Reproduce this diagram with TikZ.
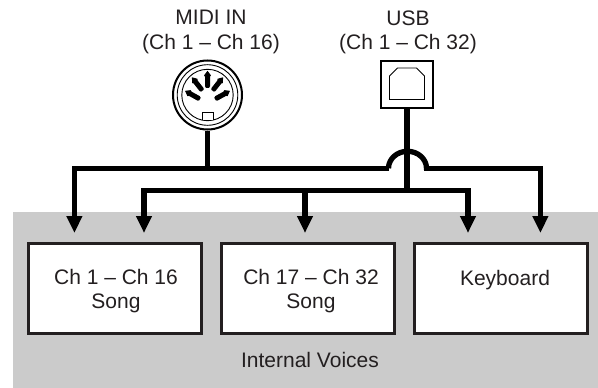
\documentclass[tikz,border=0pt]{standalone}
\usepackage{fontspec}
\setmainfont{Liberation Sans}
\usetikzlibrary{arrows.meta, positioning, calc}
\definecolor{panelgray}{HTML}{CBCBCB}
\definecolor{inktext}{HTML}{231F20}

\tikzset{
    voicebox/.style={
        rectangle,
        fill=white,
        draw=inktext,
        line width=2.6pt,
        minimum width=173pt,
        minimum height=90pt,
        inner sep=0pt
    },
    lbl/.style={
        align=center,
        inner sep=0pt,
        text=inktext,
        font=\fontsize{21}{24.3}\selectfont
    },
    bus/.style={line width=5.3pt, black},
    feed/.style={bus, -{Triangle[length=17pt,width=15pt]}}
}

\begin{document}
\begin{tikzpicture}[x=1pt,y=-1pt]
    \useasboundingbox (0,0) rectangle (598,388);
    \fill[panelgray] (13,212) rectangle (598,388);

    % voices
    \node[voicebox] (songa) at (114.7,288.5) {};
    \node[voicebox] (songb) at (308,288.5) {};
    \node[voicebox] (keyboard) at (501,288.5) {};
    \node[lbl] (songatext) at (116,291) {Ch 1 -- Ch 16\\Song};
    \node[lbl] (songbtext) at (311,291) {Ch 17 -- Ch 32\\Song};
    \node[lbl, anchor=base] (keyboardtext) at (505,285.7) {Keyboard};
    \node[lbl, anchor=base] (internal) at (310,367) {Internal Voices};

    % sockets
    \node[lbl] (midilabel) at (211,32) {MIDI IN\\(Ch 1 -- Ch 16)};
    \node[lbl] (usblabel) at (408,32) {USB\\(Ch 1 -- Ch 32)};

    \node[circle, draw=black, fill=white, line width=2pt, minimum size=69pt, inner sep=0pt] (midi) at (207.5,95) {};
    \draw[line width=0.9pt] (midi.center) circle (30.3);
    \draw[line width=0.9pt] (midi.center) circle (25.7);
    \foreach \pinx/\piny/\pinang in {0/-15.7/90, -10.3/-11/128, 10.3/-11/52, -15/0/151, 15/0/29} {
        \fill[black, shift={($(midi.center)+(\pinx,\piny)$)}, rotate=\pinang]
            (8.5,0) -- (4,3.4) -- (2.5,2.5) -- (-7,2.5) -- (-8.5,1.5) -- (-8.5,-1.5) -- (-7,-2.5) -- (2.5,-2.5) -- (4,-3.4) -- cycle;
    }
    \draw[line width=0.9pt, fill=white] ($(midi.center)+(-5.5,25.2)$) -- ++(0,-7.5) -- ++(11,0) -- ++(0,7.5);

    \node[rectangle, draw=black, fill=white, line width=2pt, minimum width=52pt, minimum height=47pt, inner sep=0pt] (usb) at (407,84.5) {};
    \draw[line width=0.9pt] ($(usb.center)+(-17.5,15)$) -- ++(0,-23.5) -- ++(8,-8) -- ++(19,0) -- ++(8,8) -- ++(0,23.5) -- cycle;

    % routing
    \coordinate (bridgel) at (389,168.3);
    \coordinate (bridger) at (426,168.3);
    \coordinate (inputa) at (74.4,233);
    \coordinate (inputb) at (144,233);
    \coordinate (inputc) at (305,233);
    \coordinate (inputd) at (468,233);
    \coordinate (inpute) at (540.4,233);
    \coordinate (lowbus) at (0,190.7);

    \draw[bus] (midi.south) -- (midi.south |- bridgel);
    \draw[bus] (usb.south) -- ($(usb.south |- lowbus)+(0,2.7)$);
    \draw[bus] ($(bridgel)+(-0.5,0)$) arc (180:360:19 and 17) -- +(0.5,0);
    \draw[feed] (bridgel) -- (bridgel -| inputa) -- (inputa);
    \draw[feed] (bridger) -- (bridger -| inpute) -- (inpute);
    \draw[feed] (lowbus -| usb.south) -- (lowbus -| inputb) -- (inputb);
    \draw[feed] (lowbus -| usb.south) -- (lowbus -| inputd) -- (inputd);
    \draw[feed] (lowbus -| inputc) -- (inputc);
\end{tikzpicture}
\end{document}
